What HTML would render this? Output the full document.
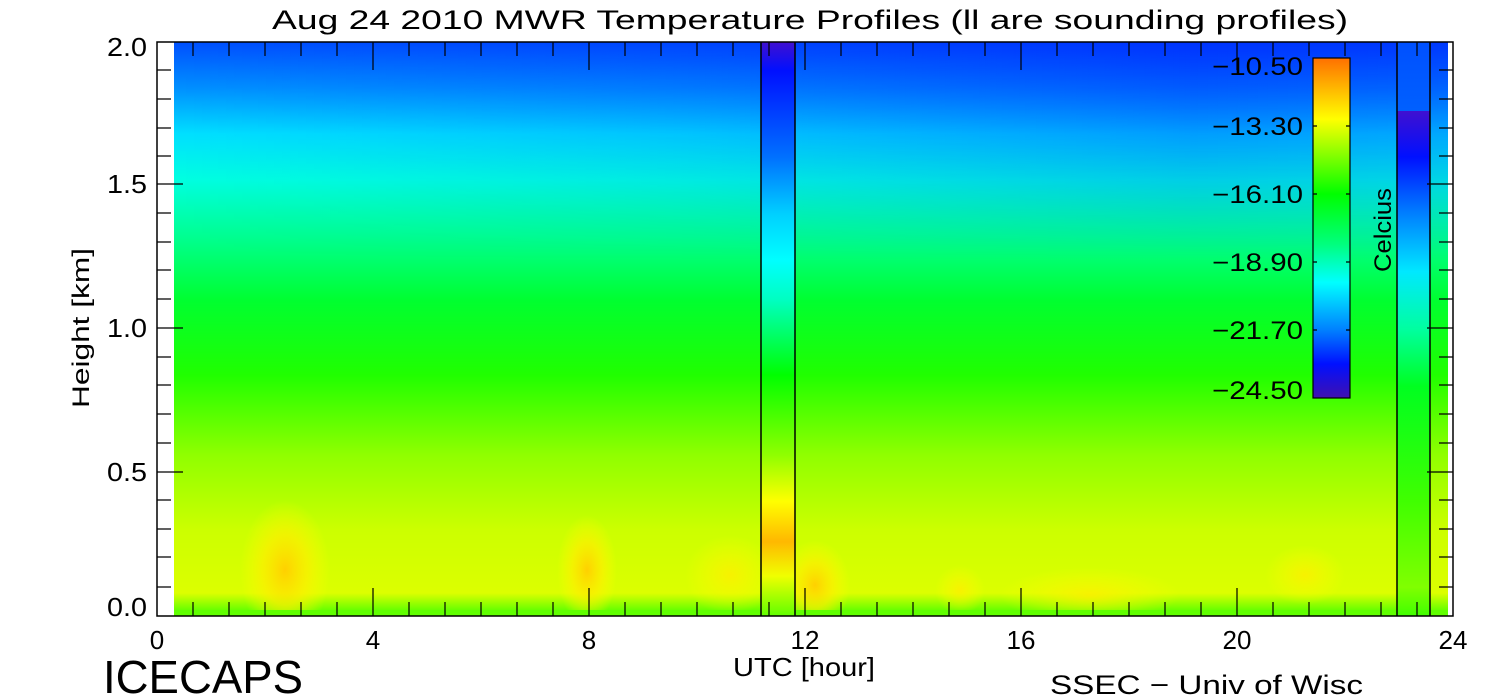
<!DOCTYPE html>
<html><head><meta charset="utf-8"><style>
html,body{margin:0;padding:0;background:#fff;}
svg{display:block;}
text{font-family:"Liberation Sans","DejaVu Sans",sans-serif;fill:#000;}
</style></head><body>
<svg width="1500" height="700" xmlns="http://www.w3.org/2000/svg">
<defs>
<clipPath id="pc"><rect x="174" y="42" width="1274" height="574"/></clipPath>
<linearGradient id="main" x1="0" y1="42" x2="0" y2="616" gradientUnits="userSpaceOnUse">
<stop offset="0" stop-color="#0050ff"/>
<stop offset="0.08" stop-color="#0090ff"/>
<stop offset="0.16" stop-color="#00e0ff"/>
<stop offset="0.24" stop-color="#00ffe0"/>
<stop offset="0.34" stop-color="#00ff90"/>
<stop offset="0.45" stop-color="#00ff30"/>
<stop offset="0.58" stop-color="#20ff00"/>
<stop offset="0.72" stop-color="#90ff00"/>
<stop offset="0.85" stop-color="#ccff00"/>
<stop offset="0.96" stop-color="#dcff00"/>
<stop offset="1" stop-color="#40ff00"/>
</linearGradient>
<linearGradient id="topdark" x1="174" y1="0" x2="1448" y2="0" gradientUnits="userSpaceOnUse">
<stop offset="0" stop-color="#0020ff" stop-opacity="0"/>
<stop offset="0.4" stop-color="#0020ff" stop-opacity="0.25"/>
<stop offset="0.8" stop-color="#0020ff" stop-opacity="0.6"/>
<stop offset="1" stop-color="#0020ff" stop-opacity="0.5"/>
</linearGradient>
<linearGradient id="topfade" x1="0" y1="42" x2="0" y2="260" gradientUnits="userSpaceOnUse">
<stop offset="0" stop-color="#fff" stop-opacity="1"/>
<stop offset="1" stop-color="#fff" stop-opacity="0"/>
</linearGradient>
<mask id="tm"><rect x="174" y="42" width="1274" height="220" fill="url(#topfade)"/></mask>
<linearGradient id="snd1" x1="0" y1="42" x2="0" y2="616" gradientUnits="userSpaceOnUse">
<stop offset="0" stop-color="#4010d0"/>
<stop offset="0.05" stop-color="#0010ff"/>
<stop offset="0.2" stop-color="#0070ff"/>
<stop offset="0.3" stop-color="#00d0ff"/>
<stop offset="0.38" stop-color="#00ffff"/>
<stop offset="0.45" stop-color="#00ffc0"/>
<stop offset="0.58" stop-color="#00ff00"/>
<stop offset="0.72" stop-color="#90ff00"/>
<stop offset="0.8" stop-color="#ffff00"/>
<stop offset="0.87" stop-color="#ffb800"/>
<stop offset="0.93" stop-color="#f0ff00"/>
<stop offset="1" stop-color="#60ff00"/>
</linearGradient>
<linearGradient id="snd2" x1="0" y1="42" x2="0" y2="616" gradientUnits="userSpaceOnUse">
<stop offset="0" stop-color="#0050ff"/>
<stop offset="0.12" stop-color="#0060ff"/>
<stop offset="0.12" stop-color="#4010d0"/>
<stop offset="0.2" stop-color="#0010ff"/>
<stop offset="0.3" stop-color="#0080ff"/>
<stop offset="0.4" stop-color="#00e8ff"/>
<stop offset="0.5" stop-color="#00ffa0"/>
<stop offset="0.6" stop-color="#00ff20"/>
<stop offset="0.8" stop-color="#40ff00"/>
<stop offset="0.95" stop-color="#80ff00"/>
<stop offset="1" stop-color="#40ff00"/>
</linearGradient>
<linearGradient id="cb" x1="0" y1="58" x2="0" y2="398" gradientUnits="userSpaceOnUse">
<stop offset="0" stop-color="#ff7000"/>
<stop offset="0.18" stop-color="#ffff00"/>
<stop offset="0.4" stop-color="#00ff00"/>
<stop offset="0.55" stop-color="#00ff80"/>
<stop offset="0.66" stop-color="#00ffff"/>
<stop offset="0.8" stop-color="#0080ff"/>
<stop offset="0.9" stop-color="#0010ff"/>
<stop offset="1" stop-color="#4010b0"/>
</linearGradient>
<radialGradient id="blob"><stop offset="0" stop-color="#ffd000"/><stop offset="0.5" stop-color="#ffee00" stop-opacity="0.7"/><stop offset="1" stop-color="#ffff00" stop-opacity="0"/></radialGradient>
<radialGradient id="blobw"><stop offset="0" stop-color="#ffee00" stop-opacity="0.8"/><stop offset="1" stop-color="#ffff00" stop-opacity="0"/></radialGradient>
</defs>
<rect x="174" y="42" width="1274" height="574" fill="url(#main)"/>
<rect x="174" y="42" width="1274" height="220" fill="url(#topdark)" mask="url(#tm)"/>
<g clip-path="url(#pc)">
<ellipse cx="285" cy="570" rx="45" ry="70" fill="url(#blob)"/>
<ellipse cx="587" cy="570" rx="30" ry="55" fill="url(#blob)"/>
<ellipse cx="730" cy="575" rx="45" ry="40" fill="url(#blobw)"/>
<ellipse cx="815" cy="585" rx="35" ry="45" fill="url(#blob)"/>
<ellipse cx="960" cy="590" rx="25" ry="25" fill="url(#blobw)"/>
<ellipse cx="1090" cy="595" rx="90" ry="28" fill="url(#blobw)"/>
<ellipse cx="1305" cy="575" rx="40" ry="30" fill="url(#blobw)"/>
<rect x="174" y="610" width="1274" height="6" fill="#60ff00"/>
</g>
<rect x="761" y="42" width="34" height="574" fill="url(#snd1)"/>
<rect x="1397" y="42" width="33" height="574" fill="url(#snd2)"/>
<g stroke="#000" stroke-width="1.5">
<line x1="761" y1="42" x2="761" y2="616"/><line x1="795" y1="42" x2="795" y2="616"/>
<line x1="1397" y1="42" x2="1397" y2="616"/><line x1="1430" y1="42" x2="1430" y2="616"/>
</g>
<rect x="157" y="42" width="1296" height="574" fill="none" stroke="#000" stroke-width="1.5"/>
<g stroke="#000" stroke-width="1.2">
<path d="M193 616v-14M229 616v-14M265 616v-14M301 616v-14M337 616v-14M373 616v-28M409 616v-14M445 616v-14M481 616v-14M517 616v-14M553 616v-14M589 616v-28M625 616v-14M661 616v-14M697 616v-14M733 616v-14M769 616v-14M805 616v-28M841 616v-14M877 616v-14M913 616v-14M949 616v-14M985 616v-14M1021 616v-28M1057 616v-14M1093 616v-14M1129 616v-14M1165 616v-14M1201 616v-14M1237 616v-28M1273 616v-14M1309 616v-14M1345 616v-14M1381 616v-14M1417 616v-14
M193 42v14M229 42v14M265 42v14M301 42v14M337 42v14M373 42v28M409 42v14M445 42v14M481 42v14M517 42v14M553 42v14M589 42v28M625 42v14M661 42v14M697 42v14M733 42v14M769 42v14M805 42v28M841 42v14M877 42v14M913 42v14M949 42v14M985 42v14M1021 42v28M1057 42v14M1093 42v14M1129 42v14M1165 42v14M1201 42v14M1237 42v28M1273 42v14M1309 42v14M1345 42v14M1381 42v14M1417 42v14
M157 70h14M157 99h14M157 128h14M157 156h14M157 184h26M157 213h14M157 242h14M157 270h14M157 299h14M157 328h26M157 357h14M157 385h14M157 414h14M157 443h14M157 472h26M157 500h14M157 529h14M157 557h14M157 587h14
M1453 70h-14M1453 99h-14M1453 128h-14M1453 156h-14M1453 184h-26M1453 213h-14M1453 242h-14M1453 270h-14M1453 299h-14M1453 328h-26M1453 357h-14M1453 385h-14M1453 414h-14M1453 443h-14M1453 472h-26M1453 500h-14M1453 529h-14M1453 557h-14M1453 587h-14"/>
</g>
<rect x="1313" y="58" width="37" height="340" fill="url(#cb)" stroke="#000" stroke-width="1.2"/>
<g stroke="#000" stroke-width="1.2">
<path d="M1313 126h4M1350 126h-4M1313 194h4M1350 194h-4M1313 262h4M1350 262h-4M1313 330h4M1350 330h-4"/>
</g>
<g font-size="25">
<text x="1212" y="75" textLength="91" lengthAdjust="spacingAndGlyphs">−10.50</text>
<text x="1212" y="135" textLength="91" lengthAdjust="spacingAndGlyphs">−13.30</text>
<text x="1212" y="203" textLength="91" lengthAdjust="spacingAndGlyphs">−16.10</text>
<text x="1212" y="271" textLength="91" lengthAdjust="spacingAndGlyphs">−18.90</text>
<text x="1212" y="339" textLength="91" lengthAdjust="spacingAndGlyphs">−21.70</text>
<text x="1212" y="399" textLength="91" lengthAdjust="spacingAndGlyphs">−24.50</text>
</g>
<text x="1385" y="230" font-size="24" text-anchor="middle" transform="rotate(-90 1385 230)" dy="6" textLength="84" lengthAdjust="spacingAndGlyphs">Celcius</text>
<text x="272" y="29" font-size="27" textLength="1076" lengthAdjust="spacingAndGlyphs">Aug 24 2010 MWR Temperature Profiles (ll are sounding profiles)</text>
<g font-size="26">
<text x="107" y="56" textLength="40" lengthAdjust="spacingAndGlyphs">2.0</text>
<text x="107" y="193" textLength="40" lengthAdjust="spacingAndGlyphs">1.5</text>
<text x="107" y="337" textLength="40" lengthAdjust="spacingAndGlyphs">1.0</text>
<text x="107" y="481" textLength="40" lengthAdjust="spacingAndGlyphs">0.5</text>
<text x="107" y="616" textLength="40" lengthAdjust="spacingAndGlyphs">0.0</text>
</g>
<g font-size="26" text-anchor="middle">
<text x="157" y="649">0</text><text x="373" y="649">4</text><text x="589" y="649">8</text><text x="805" y="649">12</text><text x="1021" y="649">16</text><text x="1237" y="649">20</text><text x="1453" y="649">24</text>
</g>
<text x="733" y="676" font-size="26" textLength="142" lengthAdjust="spacingAndGlyphs">UTC [hour]</text>
<text x="85" y="328" font-size="24" text-anchor="middle" transform="rotate(-90 85 328)" dy="4" textLength="160" lengthAdjust="spacingAndGlyphs">Height [km]</text>
<text x="103" y="693" font-size="46" textLength="200" lengthAdjust="spacingAndGlyphs">ICECAPS</text>
<text x="1050" y="694" font-size="27" textLength="313" lengthAdjust="spacingAndGlyphs">SSEC − Univ of Wisc</text>
</svg>
</body></html>
